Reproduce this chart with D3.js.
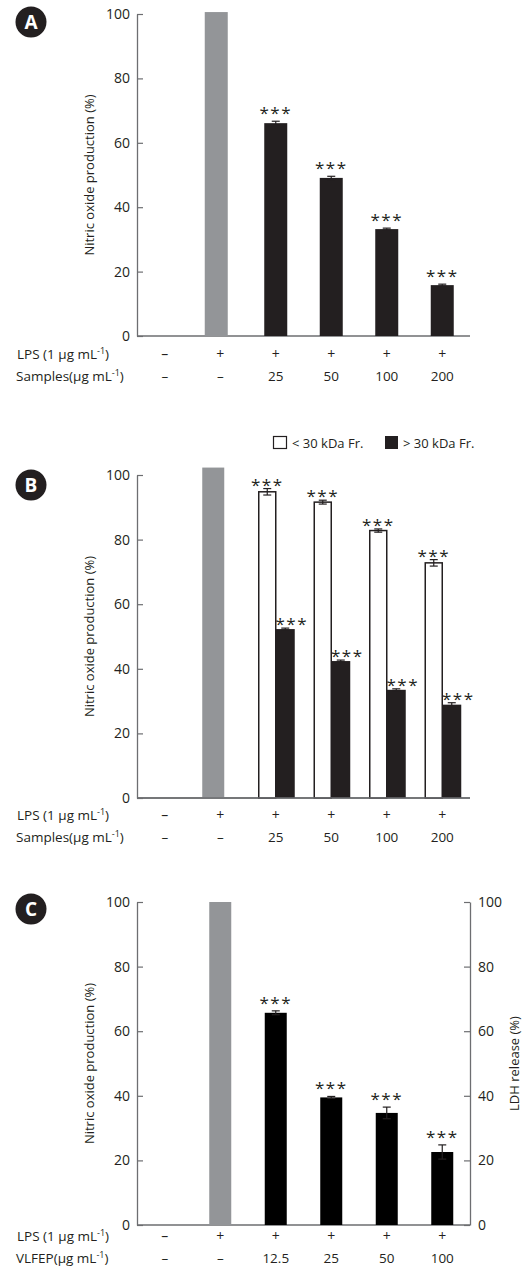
<!DOCTYPE html>
<html>
<head>
<meta charset="utf-8">
<script src="https://cdn.jsdelivr.net/npm/d3@7"></script>
<style>
  body { margin: 0; background: #fff; }
  svg text { font-family: "Open Sans", "Noto Sans", sans-serif; fill: #231f20; }
</style>
</head>
<body>
<svg id="fig" width="529" height="1268"></svg>
<script>
// row labels under the x axis
var lpsRow = ["\u2013", "+", "+", "+", "+", "+"];
var samplesRow = ["\u2013", "\u2013", "25", "50", "100", "200"];
var vlfepRow = ["\u2013", "\u2013", "12.5", "25", "50", "100"];
var groups = ["ctrl", "lps", "d1", "d2", "d3", "d4"];
var yTicks = [0, 20, 40, 60, 80, 100];

// panel A - nitric oxide (%)
var noA = [null, 100.6, 66.1, 49.1, 33.2, 15.8];
var noAErr = [0, 0, 0.6, 0.5, 0.3, 0.3];

// panel B - fractions
var lpsB = 102.3;
var smallFr = [94.8, 91.6, 82.8, 72.8];
var smallFrErr = [1.0, 0.6, 0.5, 1.0];
var largeFr = [52.3, 42.4, 33.5, 28.9];
var largeFrErr = [0.3, 0.3, 0.3, 0.6];

// panel C - VLFEP
var noC = [null, 100, 65.7, 39.5, 34.7, 22.6];
var noCErr = [0, 0, 0.6, 0.3, 1.8, 2.2];

var svg = d3.select("#fig");
var GRAY = "#939598", DARK = "#231f20", AXIS = "#6d6e71";

var x = d3.scaleBand().domain(groups).range([137, 470]);

function badge(cx, cy, letter) {
  svg.append("circle").attr("cx", cx).attr("cy", cy).attr("r", 15.5).attr("fill", DARK);
  svg.append("text").attr("x", cx).attr("y", cy + 7).attr("text-anchor", "middle")
    .style("fill", "#fff").style("font-weight", "bold").style("font-size", "19px").text(letter);
}

function leftAxis(y) {
  var g = svg.append("g").attr("transform", "translate(137,0)")
    .call(d3.axisLeft(y).tickValues(yTicks).tickSize(-6).tickSizeOuter(0).tickPadding(7));
  g.select(".domain").attr("stroke", AXIS).attr("stroke-width", 1.3);
  g.selectAll(".tick line").attr("stroke", AXIS).attr("stroke-width", 1.2);
  g.selectAll("text").style("font-size", "14px").style("fill", DARK);
  svg.append("line").attr("x1", 137).attr("x2", 470).attr("y1", y(0)).attr("y2", y(0))
    .attr("stroke", AXIS).attr("stroke-width", 1.3);
  svg.append("text")
    .attr("transform", "translate(94," + (y(0) + y(100)) / 2 + ") rotate(-90)")
    .attr("text-anchor", "middle").style("font-size", "13px")
    .text("Nitric oxide production (%)");
}

function rowLabels(y0, name, row) {
  var t1 = svg.append("text").attr("x", 17).attr("y", y0).style("font-size", "13.5px");
  t1.append("tspan").text("LPS (1 \u00b5g mL");
  t1.append("tspan").attr("dy", -5).style("font-size", "9px").text("-1");
  t1.append("tspan").attr("dy", 5).text(")");
  var t2 = svg.append("text").attr("x", 16).attr("y", y0 + 22).style("font-size", "13.5px");
  t2.append("tspan").text(name + "(\u00b5g mL");
  t2.append("tspan").attr("dy", -5).style("font-size", "9px").text("-1");
  t2.append("tspan").attr("dy", 5).text(")");
  svg.selectAll(null).data(lpsRow).enter().append("text")
    .attr("x", function (d, i) { return x(groups[i]) + x.bandwidth() / 2; })
    .attr("y", y0).attr("text-anchor", "middle").style("font-size", "14px").text(function (d) { return d; });
  svg.selectAll(null).data(row).enter().append("text")
    .attr("x", function (d, i) { return x(groups[i]) + x.bandwidth() / 2; })
    .attr("y", y0 + 22).attr("text-anchor", "middle").style("font-size", "13.5px").text(function (d) { return d; });
}

function errBar(cx, y, v, e) {
  if (!e) return;
  var g = svg.append("g").attr("stroke", DARK).attr("stroke-width", 1.2);
  g.append("line").attr("x1", cx).attr("x2", cx).attr("y1", y(v - e)).attr("y2", y(v + e));
  g.append("line").attr("x1", cx - 4).attr("x2", cx + 4).attr("y1", y(v + e)).attr("y2", y(v + e));
  g.append("line").attr("x1", cx - 4).attr("x2", cx + 4).attr("y1", y(v - e)).attr("y2", y(v - e));
}

function stars(cx, yTop) {
  svg.append("text").attr("x", cx).attr("y", yTop).attr("text-anchor", "middle")
    .style("font-size", "17px").style("letter-spacing", "1.5px").text("***");
}

function simplePanel(vals, errs, y, barColor, bw, starGap, lpsShift) {
  vals.forEach(function (v, i) {
    if (v == null) return;
    var cx = x(groups[i]) + x.bandwidth() / 2;
    if (i == 1) cx += lpsShift;
    svg.append("rect").attr("x", cx - bw / 2).attr("width", bw)
      .attr("y", y(v)).attr("height", y(0) - y(v))
      .attr("fill", i == 1 ? GRAY : barColor);
    errBar(cx, y, v, errs[i]);
    if (i > 1) stars(cx, y(v + errs[i]) + starGap);
  });
}

// ---- Panel A
var yA = d3.scaleLinear().domain([0, 100]).range([336, 14]);
badge(31, 22, "A");
leftAxis(yA);
simplePanel(noA, noAErr, yA, DARK, 23, -2, -4);
rowLabels(359, "Samples", samplesRow);

// ---- Panel B
var yB = d3.scaleLinear().domain([0, 100]).range([798, 475]);
badge(31, 485, "B");
leftAxis(yB);
var cxLps = x("lps") + x.bandwidth() / 2 - 7;
svg.append("rect").attr("x", cxLps - 11).attr("width", 22).attr("y", yB(lpsB))
  .attr("height", yB(0) - yB(lpsB)).attr("fill", GRAY);
smallFr.forEach(function (v, i) {
  var c = x(groups[i + 2]) + x.bandwidth() / 2;
  svg.append("rect").attr("x", c - 17).attr("width", 17).attr("y", yB(v))
    .attr("height", yB(0) - yB(v)).attr("fill", "#fff").attr("stroke", DARK).attr("stroke-width", 1.5);
  errBar(c - 8.5, yB, v, smallFrErr[i]);
  stars(c - 8.5, yB(v + smallFrErr[i]) + 2);
});
largeFr.forEach(function (v, i) {
  var c = x(groups[i + 2]) + x.bandwidth() / 2;
  svg.append("rect").attr("x", c).attr("width", 19).attr("y", yB(v))
    .attr("height", yB(0) - yB(v)).attr("fill", DARK);
  errBar(c + 9.5, yB, v, largeFrErr[i]);
  stars(c + 16, yB(v + largeFrErr[i]) + 2);
});
// redraw x baseline over bars
svg.append("line").attr("x1", 137).attr("x2", 470).attr("y1", yB(0)).attr("y2", yB(0))
  .attr("stroke", AXIS).attr("stroke-width", 1.3);
// legend
var legY = 436;
svg.append("rect").attr("x", 273.5).attr("y", legY + 0.5).attr("width", 13).attr("height", 12)
  .attr("fill", "#fff").attr("stroke", DARK).attr("stroke-width", 1.2);
svg.append("text").attr("x", 292).attr("y", legY + 12).style("font-size", "13px").text("< 30 kDa Fr.");
svg.append("rect").attr("x", 385).attr("y", legY).attr("width", 13).attr("height", 13).attr("fill", DARK);
svg.append("text").attr("x", 403).attr("y", legY + 12).style("font-size", "13px").text("> 30 kDa Fr.");
rowLabels(820, "Samples", samplesRow);

// ---- Panel C
var yC = d3.scaleLinear().domain([0, 100]).range([1225, 902]);
badge(31, 909, "C");
leftAxis(yC);
simplePanel(noC, noCErr, yC, "#000", 22, -2, 0);
var gr = svg.append("g").attr("transform", "translate(470,0)")
  .call(d3.axisRight(yC).tickValues(yTicks).tickSize(-6).tickSizeOuter(0).tickPadding(8));
gr.select(".domain").attr("stroke", AXIS).attr("stroke-width", 1.3);
gr.selectAll(".tick line").attr("stroke", AXIS).attr("stroke-width", 1.2);
gr.selectAll("text").style("font-size", "14px").style("fill", DARK);
svg.append("text")
  .attr("transform", "translate(519," + (yC(0) + yC(100)) / 2 + ") rotate(-90)")
  .attr("text-anchor", "middle").style("font-size", "13px").text("LDH release (%)");
rowLabels(1241, "VLFEP", vlfepRow);
</script>
</body>
</html>
